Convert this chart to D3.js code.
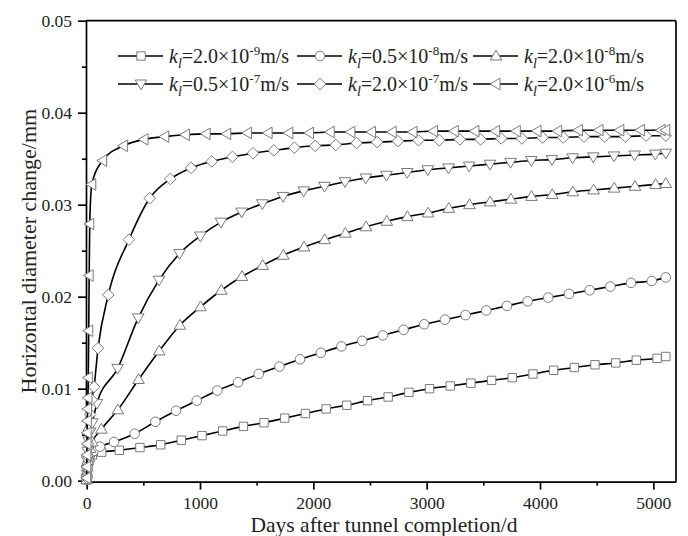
<!DOCTYPE html>
<html><head><meta charset="utf-8">
<script src="https://cdn.jsdelivr.net/npm/d3@7"></script>
<style>body{margin:0;background:#fff}svg{display:block}</style>
</head><body>
<svg id="chart" width="688" height="536"></svg>
<script>
// ---------- data ----------
const xTicks = [0, 1000, 2000, 3000, 4000, 5000];
const xMinor = [500, 1500, 2500, 3500, 4500];
const yTicks = [0.00, 0.01, 0.02, 0.03, 0.04, 0.05];
const yMinor = [0.005, 0.015, 0.025, 0.035, 0.045];
const xTitle = "Days after tunnel completion/d";
const yTitle = "Horizontal diameter change/mm";
const legendCoef = ["2.0", "0.5", "2.0", "0.5", "2.0", "2.0"];
const legendExp = ["-9", "-8", "-8", "-7", "-7", "-6"];

const days1 = [0,2,5,10,18,30,50,132,288,470,653,835,1018,1200,1383,1565,1748,1930,2113,2295,2478,2660,2843,3025,3208,3390,3573,3755,3938,4120,4303,4485,4668,4850,5033,5110];
const val1  = [0.0001,0.0006,0.0011,0.0016,0.0021,0.0025,0.0028,0.0031,0.0033,0.0036,0.0039,0.0044,0.0049,0.0054,0.0059,0.0063,0.0068,0.0073,0.0078,0.0082,0.0087,0.0091,0.0096,0.0100,0.0103,0.0106,0.0109,0.0112,0.0116,0.0120,0.0123,0.0126,0.0128,0.0131,0.0133,0.0135];

const days2 = [0,2,5,10,18,30,58,117,241,423,606,788,971,1153,1336,1518,1701,1883,2066,2248,2431,2613,2796,2978,3161,3343,3526,3708,3891,4073,4256,4438,4621,4803,4986,5110];
const val2  = [0.0001,0.0007,0.0013,0.0019,0.0024,0.0028,0.0032,0.0037,0.0042,0.0051,0.0064,0.0076,0.0087,0.0098,0.0107,0.0116,0.0124,0.0132,0.0139,0.0146,0.0152,0.0158,0.0164,0.0170,0.0175,0.0180,0.0185,0.0190,0.0195,0.0199,0.0203,0.0207,0.0211,0.0215,0.0217,0.0221];

const days3 = [0,2,5,10,18,30,50,130,275,458,640,823,1005,1188,1370,1553,1735,1918,2100,2283,2465,2648,2830,3013,3195,3378,3560,3743,3925,4108,4290,4473,4655,4838,5020,5110];
const val3  = [0.0001,0.0008,0.0015,0.0022,0.0029,0.0035,0.0042,0.0056,0.0077,0.0110,0.0141,0.0169,0.0189,0.0207,0.0222,0.0234,0.0245,0.0254,0.0262,0.0269,0.0276,0.0282,0.0287,0.0291,0.0296,0.0300,0.0303,0.0306,0.0309,0.0311,0.0314,0.0316,0.0318,0.0320,0.0322,0.0323];

const days4 = [0,2,5,10,18,30,50,90,273,455,638,820,1003,1185,1368,1550,1733,1915,2098,2280,2463,2645,2828,3010,3193,3375,3558,3740,3923,4105,4288,4470,4653,4835,5018,5110];
const val4  = [0.0002,0.0012,0.0022,0.0032,0.0043,0.0053,0.0063,0.0084,0.0122,0.0177,0.0218,0.0247,0.0266,0.0281,0.0292,0.0301,0.0309,0.0315,0.0320,0.0325,0.0329,0.0332,0.0335,0.0338,0.0340,0.0342,0.0344,0.0346,0.0348,0.0349,0.0351,0.0352,0.0353,0.0354,0.0355,0.0356];

const days5 = [0,2,5,10,18,30,45,65,100,191,373,556,738,921,1103,1286,1468,1651,1833,2016,2198,2381,2563,2746,2928,3111,3293,3476,3658,3841,4023,4206,4388,4571,4753,4936,5110];
const val5  = [0.0003,0.0015,0.0027,0.0040,0.0055,0.0072,0.0088,0.0102,0.0144,0.0202,0.0262,0.0307,0.0328,0.0340,0.0347,0.0352,0.0356,0.0359,0.0362,0.0364,0.0365,0.0367,0.0368,0.0369,0.0370,0.0370,0.0371,0.0371,0.0372,0.0372,0.0373,0.0373,0.0374,0.0374,0.0374,0.0375,0.0375];

const days6 = [0,1,2,3,4,6,8,11,14,18,22,27,45,141,324,506,689,871,1054,1236,1419,1601,1784,1966,2149,2331,2514,2696,2879,3061,3244,3426,3609,3791,3974,4156,4339,4521,4704,4886,5069,5110];
const val6  = [0.0003,0.0015,0.0028,0.0040,0.0052,0.0065,0.0078,0.0090,0.0112,0.0163,0.0223,0.0279,0.0322,0.0348,0.0364,0.0371,0.0374,0.0376,0.0377,0.0377,0.0378,0.0378,0.0378,0.0378,0.0379,0.0379,0.0379,0.0379,0.0379,0.0380,0.0380,0.0380,0.0380,0.0380,0.0380,0.0380,0.0381,0.0381,0.0381,0.0381,0.0381,0.0381];

// ---------- layout / style ----------
const FONT = "'Liberation Serif','Times New Roman',serif";
const M = {left: 86, right: 676, top: 20.7, bottom: 481.6};
const svg = d3.select("#chart");

const x = d3.scaleLinear().domain([-6, 5200]).range([M.left, M.right]);
const y = d3.scaleLinear().domain([-0.0001, 0.05]).range([M.bottom, M.top]);

const shapes = {
  square:  "M-4.2,-4.2H4.2V4.2H-4.2Z",
  circle:  "M4.8,0A4.8,4.8 0 1,1 -4.8,0A4.8,4.8 0 1,1 4.8,0Z",
  up:      "M0,-5.8L5.8,4L-5.8,4Z",
  down:    "M0,5.8L5.8,-4L-5.8,-4Z",
  diamond: "M0,-5.8L5.8,0L0,5.8L-5.8,0Z",
  left:    "M-5.8,0L4,-5.8L4,5.8Z"
};
const series = [
  {days: days1, vals: val1, shape: "square"},
  {days: days2, vals: val2, shape: "circle"},
  {days: days3, vals: val3, shape: "up"},
  {days: days4, vals: val4, shape: "down"},
  {days: days5, vals: val5, shape: "diamond"},
  {days: days6, vals: val6, shape: "left"}
];

// ---------- axes ----------
const gx = svg.append("g").attr("transform", `translate(0,${M.bottom})`)
  .call(d3.axisBottom(x).tickValues(xTicks).tickFormat(d3.format("d")).tickSize(8).tickSizeOuter(0).tickPadding(7));
const gxm = svg.append("g").attr("transform", `translate(0,${M.bottom})`)
  .call(d3.axisBottom(x).tickValues(xMinor).tickFormat("").tickSize(4).tickSizeOuter(0));
const gy = svg.append("g").attr("transform", `translate(${M.left},0)`)
  .call(d3.axisLeft(y).tickValues(yTicks).tickFormat(d3.format(".2f")).tickSize(8).tickSizeOuter(0).tickPadding(6));
const gym = svg.append("g").attr("transform", `translate(${M.left},0)`)
  .call(d3.axisLeft(y).tickValues(yMinor).tickFormat("").tickSize(4).tickSizeOuter(0));
[gx, gxm, gy, gym].forEach(g => {
  g.selectAll("path.domain").attr("stroke", "#000").attr("stroke-width", 1.7);
  g.selectAll("line").attr("stroke", "#000").attr("stroke-width", 1.7);
  g.selectAll("text").attr("font-family", FONT).attr("font-size", 17.5).attr("fill", "#222");
});
gxm.select("path.domain").remove();
gym.select("path.domain").remove();
// frame top & right
svg.append("line").attr("x1", M.left).attr("x2", M.right).attr("y1", M.top).attr("y2", M.top)
  .attr("stroke", "#000").attr("stroke-width", 1.7);
svg.append("line").attr("x1", M.right).attr("x2", M.right).attr("y1", M.top).attr("y2", M.bottom)
  .attr("stroke", "#000").attr("stroke-width", 1.7);

// titles
svg.append("text").attr("x", (M.left + M.right) / 2 + 3).attr("y", 532)
  .attr("text-anchor", "middle").attr("font-family", FONT).attr("font-size", 21.5).attr("fill", "#222")
  .text(xTitle);
svg.append("text").attr("transform", `translate(36,${(M.top + M.bottom) / 2}) rotate(-90)`)
  .attr("text-anchor", "middle").attr("font-family", FONT).attr("font-size", 22).attr("fill", "#222")
  .text(yTitle);

// ---------- series ----------
const line = d3.line().x(d => x(d[0])).y(d => y(d[1])).curve(d3.curveMonotoneX);
series.forEach(s => {
  const pts = s.days.map((d, i) => [d, s.vals[i]]);
  svg.append("path").datum(pts).attr("d", line)
    .attr("fill", "none").attr("stroke", "#000").attr("stroke-width", 1.6);
  svg.append("g").selectAll("path").data(pts).join("path")
    .attr("transform", d => `translate(${x(d[0])},${y(d[1])})`)
    .attr("d", shapes[s.shape])
    .attr("fill", "#fff").attr("stroke", "#7a7a7a").attr("stroke-width", 1);
});

// ---------- legend ----------
const colX = [118, 297, 473];
const rowY = [56, 84];
series.forEach((s, i) => {
  const lx = colX[i % 3], ly = rowY[Math.floor(i / 3)];
  const g = svg.append("g").attr("transform", `translate(${lx},${ly})`);
  g.append("line").attr("x1", 0).attr("x2", 45).attr("y1", 0).attr("y2", 0)
    .attr("stroke", "#000").attr("stroke-width", 1.6);
  g.append("path").attr("transform", "translate(23,0)").attr("d", shapes[s.shape])
    .attr("fill", "#fff").attr("stroke", "#7a7a7a").attr("stroke-width", 1);
  const t = g.append("text").attr("x", 51).attr("y", 7)
    .attr("font-family", FONT).attr("font-size", 20).attr("fill", "#222");
  t.append("tspan").attr("font-style", "italic").text("k");
  t.append("tspan").attr("font-style", "italic").attr("font-size", 14).attr("dy", 5).text("l");
  t.append("tspan").attr("dy", -5).text("=" + legendCoef[i] + "×10");
  t.append("tspan").attr("font-size", 13).attr("dy", -8).text(legendExp[i]);
  t.append("tspan").attr("dy", 8).text("m/s");
});
</script>
</body></html>
